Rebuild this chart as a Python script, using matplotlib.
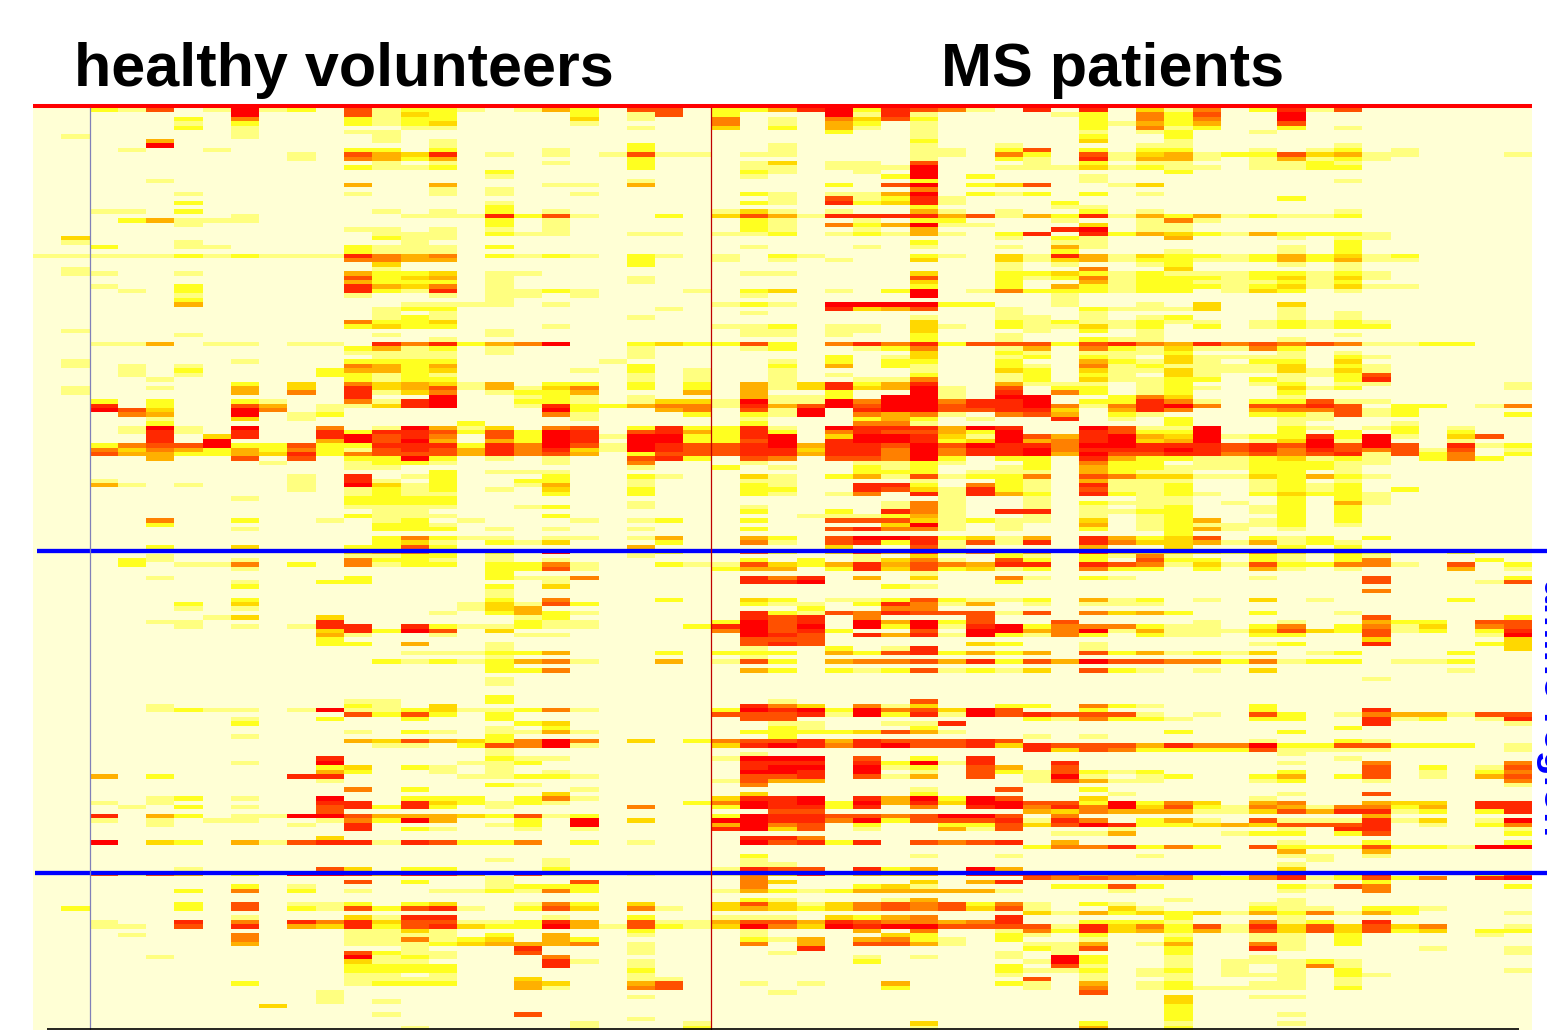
import matplotlib

matplotlib.use("Agg")
import matplotlib.pyplot as plt
import numpy as np
from matplotlib.colors import ListedColormap

# intensity level per row (0-8, "." = 0), short rows are padded with zeros
# columns 0-17
left_rows = [
    "..216.1812.61221.1", ".......8...6132", ".....2.5...2122", ".....1.2...2123", ".....2.1.....11",
    ".......1...11", ".1.....1....1", "....4.......1.1", "....8.........1", "...1..1....22.2",
    ".........1.6437.1", ".........1.5424", "............1.1", "...........2112", "................2",
    "................1", "....1", "...........4..4", "..............1.1", ".....1.....1..1.1",
    "", ".....2..........1", "................2", "..11.2......1.1.2", ".......1.....11172",
    "...24111........2", ".....1..........2", "...........11.1.1", "............111.21", ".3..........211",
    ".1...1.......1", "..2..11....2111.2", "...........2111", "111112121117545.21", "...........5544",
    "............3", ".1..........1", ".11..1.....4223.11", "...........6234.1", "...........4222.1",
    "..1..2.....7435.1", "...1.2.....7217.11", ".....1.....1..1.11", ".....2..........1", ".....4.......1111",
    "............122", "............1.1", "............121", "...........5223", "...........2322",
    ".1..............1", ".....1......1...1",
    "..............1",
    "..114.11.11.757245", "...........2412.1", "...........1111.1", "............111", ".1.....1...2222",
    ".1.1.1.....5424", "...1.2....24423", "...1.1....22121", "....1......2122", ".......2.3.534314",
    ".1..1..4.3.7346141", ".1.....4.5.7135.12", "...........7..8..1", "..2.2..21..5178..2", "..7.2..64.11378..1",
    "..863..85.1", "...54..8.12", "....1..3.1", "....2..........2", "...181.8..5.18413",
    "...171.7..72776262", "....7.37..78675.62", "....7.8...48684.42", "..2566822622777275", "..5354242521676475",
    "..6442243725666475", "....4..6.6.2282.1", "........1..1221", "...........11", "..............2.11",
    ".........1.7.12", "..1......1.71.2..2", "..41.1...1.8312..1", ".........1.1212.1", "...........1211",
    ".......1...2222", "...........2222", "...........1111..1", "............11", "...........2111",
    "....5..2..1.12.1", "....2.......221", ".......1....222.1", "", "............25211",
    "............231.21", "....2..3...2262", "...........3452.2", "....1......1122.1", "...21..1...5221.1",
    "...2.115.2.5122.22", ".......1........22", "................2",
    "....1......2....21", ".......1..22", ".......2........2", "................1", "................1",
    ".......2........2", ".....2.3.......131", ".....1.1.......134", "..............1.24", "......13..3......1",
    "....11....7......2", ".....1.1.177.72112", "..........37286.3", "..........41..1..1", "..........2",
    "..........22.4..1", "................1", ".............11122", "................1", "............212124",
    "................2", "................22", "", "................1", "................1",
    "", "", "................2", "...........11...2", "....1......21.3",
    "....1211.181123112", "...........6262.2", ".......1..2..2..2", ".......2.........2", "................1",
    "...........1.21.11", ".......1........2", "...........4364325", "............11.265", "................1",
    "................1", "..........7.....21", ".......1..8....112", "..........23.21.1", "..........42..1.1",
    "..4.2....77....112", "..........1", "................21", "...........5.2", "",
    "....12.1..8..222.2", "..1.1.....77.73212", "...1.2.1..67272.1", "..........6",
    "..7.42.11886444326", "..1.1.11..15284..2", "....1....1.7....12", "...........7.21..1", "",
    "..........3", "..8.32.41677176225", "", "", "",
    "................1", "", ".....1....63.22", "..6164.2.8874774.6", "................1",
    "...........6.2..1", ".......2.1......12", ".....2.5.2.1..1121", "", "",
    ".....2.6.112.23..1", ".2...2.6.2162671.2", "", ".......1...3177", "..1..7.5.757366112",
    "..11.6.7.437267322", "...........1131", "...1...5...1111.2", ".......5...115123", ".......4...1112344",
    ".............1...7", "...........6211..6", "....1......8121", "...........311", "...........2222",
    "...........2222", "...........11.1", "...........1111..3", ".......2...1222..4", ".................4",
    "..........1", "..........1", "..........1.1", "........3", "",
    "............1....6", "", "", ".............1",
]

# columns 18-34
middle_rows = [
    "42.66.2247827651", ".2.16.2...8171", ".3.1..5.1.5362", ".1....5.1.42.1", "...1..3.2.41.1",
    "..........2..1", ".............1", ".............2", "...2....1....1..1", "1..2....1....11.2",
    "1.1611.11....11.5", "...2.........1..2", "1..2...13.11.6", "...2...11.1118..1", ".......21..1.8",
    ".......1....28.2", "...1.........2", "11.4......2.68.23", ".............5", ".1.....21.1148.21",
    "........1.61271", ".......21.72371", ".............2", "1.....131.1..41.1", "61..2.36417777461",
    "1......21..1.22", "1......21.524811", "1......21..1.4", "1..11.112.12141.2", "................1",
    ".............2", ".......1...1.1..1", "", "21.21.1.21...21.3", "...2..1.1.1..3..3",
    "...2............1", "................1", ".......11....3..2", "...1.........6..2", "...1.........3..2",
    ".............2..2", "21...1.23.1.28.15", ".1.....1.....8", "", "1.....121.888822",
    "....1.....7346..1", ".......1........1", "...1.........1..1", ".............3..2", "1.....112.11.31.2",
    ".......11.11.3", ".......11.1..2..1",
    ".............2..1",
    "8..232262.5757266", "...1...12..125..1", "...1.........3..2", "...1......2.13..1", "..1.....1.2.22..2",
    "...2....2.4.21..2", ".1.2.1..1....1..3", "...1.1..1.1..2..1", "...1.1..1..115..1", "22.2.2.4137247..4",
    "35.2.2.41373481.6", "24...4.4..2..81.7", "21.1...4112.881.8", "21.13318118588577", "72245517468688677",
    "82..45.618.788667", "51...2.218.5451.5", ".1.....1...242.1", ".......2...551", "56.272271.8777487",
    "87.674272.5766428", "871882278.3887318", "87.882268.7887238", "86187667847768687", "73187667737758577",
    "64.26667747758577", "1..672.65.66582.2", "1..5...1...1121", "...1..2.1..212..1", "1..........222.11",
    "2..21..31.2416122", "2..1...11....1..2", "4..1...21..772.52", "3..2...22..763172", "2..2...21.15.7174",
    "..............1", "...1........151..2", "2..1...1....151..1", ".......2..2.751.7", "2........111241",
    ".1.12..2..6663121", "............381.1", "1..1...2..67551.1", "", "11.14..42.6887231",
    "3...2..51.6727161", "...4......3..61", "8..12..62.3747252", "...1.......1.3..2", "1......2.2.1351.6",
    "51..2116324746547", "61....244.2736231", ".............1",
    "15.....757.4.3..5", "1......778......2", "3...........21", "", "",
    "5...2..32.1126211", "62.....211.27514", ".........2..55", "21.....7216576661", "2......767.5...6",
    "11....2867.84826", "11...27868.828178", "......58672..6.88", "1......876.747182", ".......666",
    ".......676.....32", ".......1..2.17", "4...2.222.4267242", ".......1", "51..4.162.4556472",
    "", "5......42.2126121", "", "", "",
    "", "", "", "........1....6", ".......753.513..2",
    "51....28782856386", "......66671827186", ".......66", "3.......11..117", "2.......21...2",
    "41.....22223641", "........2", "85.3.256674766676", "81....37875786673", "",
    ".......1", "1.....1888.6.2.7", ".......777.72817", ".......788.812.64", "1......887.8.1.62",
    "21.....667.614.6", "......1644", ".......5", ".1...........1..6", "3......3.....2",
    "51....3778.748286", "1....258782847388", "...5..287727.5.78", "........66",
    "12....28776656886", ".8.3..88775826667", ".8....4856.2..226", ".1....7836.1..416", "",
    ".......775", ".2.1...86727.6567", "", "", ".......2.....1..1",
    "1......1", "1......11", "2.....1766.724.84", "1..1..15371434.77", ".......5",
    ".6.....53....3.47", "22.....5...231", "52....14212444441", "", ".......21...14",
    "52.3..36313565625", "63.51.34323565636", "", "1..2..111.3245..7", "74.61146647655457",
    "84162138538788666", "...2...1...4.5..1", "4..1...1....32..2", "42.....214.4521.2", "45.1...5.4.6641..1",
    "...1.....7", "...1....1.......1", "5..........1.1..1", "71.1.......2", "7..1............2",
    "...2............2", "...1............1", "...11", "3..46..1.1..4...2", "1..56.......2",
    "........1", "...1", "", "", "",
    "", "...1", ".1...1.......3", ".1...2.......1",
]

# columns 35-52
right_rows = [
    "7.7.315.2716", ".12.526..8", "..2.525..8", "..21424..6", "..2.512..2.1",
    "..1.12..1", "..2..2", "..3..1", "....11.....1", "6.2.22..1.12.1",
    "2.613412263411...1", "1.71441.14121", "1.2.11..1121", "1131211.1122", ".....2",
    "..1", "..1........1", "6..13", "", "2.2.1",
    ".........2", ".2", ".11", "..2.1......1", "427142412112",
    ".1..151", "..3.11", ".78.11", "7.72432142221", ".21..4...1.11",
    ".11........2", ".41......1.2", ".2...1...1.2", "17413221242312", "13412211242411",
    ".1..12...1.1", "..5..3.....1", "2321211122121", "1251222123131", "..4122111212",
    ".4212221231311", "222122.132.1", ".1", ".1", ".1..1.3..3",
    "..21113..1", "..1......1.1", "1.1.12...1.1", "1211211.12121", "11312.2.12122",
    "1.2.1", "....1......1",
    "..211....1",
    "6267547565651122", "4.52131152", "1.1112...1.1", "2.21.31111.21", "..42131.22.3",
    "1.51211113.21", "2.31131113131", "2.21.31..1126", "2.31122.21.27", "111.12..12.11....1",
    ".22.121..312.....1", ".52.12...2", "8..253...1", "8.22751.22611", "8515785.6676.22.15",
    "73.475..455612", "64.21...221612...2", ".7.1.2...11", ".....2...1...1", "..86118..21.12.1",
    "..76228..2.2.2.2", "64784381227281.36", "4578348.13818..1", "75887776768686.712", "8577787675765616.1",
    "8486677565671625.2", "2.74221123121.252", "2.522.1122211", "2.4221112221", "1.4211..22.1",
    "5.65331132421", "1.4111..12.1", "1.7112..1212", "1.6112..1212.2", "2.72121.23221",
    "1...11...2.21", "1.2111.1.2.41", "1.1.12..12.2", "7.1122..12.2", "1.1.12...2.2",
    "1.3.124.12.2", "..4.121112.1", "..2.1241.1", ".....2", "4.74236.212.2",
    "7.7533414121", "..4..3...2.2", "4.73333253132..2", "1.2151..21.21", "2.2.622.21.25...2",
    "7.765131622551.6.2", "2.522.2.41.1...4.1", "",
    "1.21....1...6....2", "............6...16", "", "............5", "",
    "2.412.1.3.1....2", "1.111", "", "6.5342..2..1", "............6....2",
    ".6....1..1..422.66", "2555211.25.2513.56", "458141113632612.27", "152.211.22..6...18", "............3....3",
    "..1.....12..7...23", "..1..............3", "4.6241213.12...2", "", "648665525122.112",
    "", "3.621.1.3......1", "", "............1", "",
    "", "", "", "", "2.521...2",
    "..2.....2...7", "76661.1.62.1544166", "215221..22..712.17", "............7....1", "...........2",
    ".....2...2", "1.1", "........1..21", "7666475582266222.1", "7365222261111....1",
    ".........1", "...........1", ".7.......1..5....5", ".6..........6.2.16", "16212....2..6.1.25",
    "181.12..24.26.1.46", "16411...12..1....5", ".................1", "..2", "...1.....1..6",
    "..3.....1", "6628253.45..433.77", "575836215415524.77", "435444113647712.27",
    ".5..........4",
    "175.241.6111713.18", "3687223436667.1.25", "...1.....1.77....1", ".114...122.26....2", "",
    ".4.......1..2....2", "2557252.6222622188", ".........4..4", "....1....11.1", "..........1",
    ".........1", ".........3", "7645451.57.27...26", "656555225712625.78", "............2",
    ".2262....2165....2", "...1.....1..5", "", ".....1...1", "1.21....11",
    "1..31...211.221", "31423231425142...1", ".....2...1", "..2221..512.7", "617352617363635..1",
    "527342416363623.22", "1.2..1..11.2....1", "..1..2..11.2", "114.14..51.2", "216..2..71....1..1",
    ".1...2...........1", ".82..1..1", "182..1.11121", ".61..1.1.151", "112.12.1.1.2.....1",
    "..1.11.111.21", "6.1..1...1.1", "1.4.12..11.1", "1.5.121111.2", "..6",
    ".....3..11", ".....3", ".....2", ".....2", ".....2...1",
    ".....2", "..2..1...1", "..4..2", "..6..2",
]

group_titles = ["healthy volunteers", "MS patients"]
side_label = "amino region"
level_colors = ["#ffffd5", "#ffff80", "#ffff20", "#ffd800", "#ffb000",
                "#ff8000", "#ff5000", "#ff2800", "#ff0000"]

W, H = 1547, 1030


def to_levels(rows, width):
    out = []
    for row in rows:
        row = row.ljust(width, ".")[:width]
        out.append([0 if ch == "." else int(ch) for ch in row])
    return np.array(out)


def fx(px):
    return px / W


def fy(py):
    return 1 - py / H


n = min(len(left_rows), len(middle_rows), len(right_rows))
matrix = np.hstack([to_levels(left_rows[:n], 18),
                    to_levels(middle_rows[:n], 17),
                    to_levels(right_rows[:n], 18)])

fig = plt.figure(figsize=(W / 100, H / 100), dpi=100, facecolor="white")
ax = fig.add_axes([fx(33), fy(1030), (1532 - 33) / W, (1030 - 108.3) / H])
ax.imshow(matrix, aspect="auto", cmap=ListedColormap(level_colors), vmin=-0.5, vmax=8.5,
          interpolation="nearest")
ax.axis("off")

title_font = dict(family="Liberation Sans", fontweight="bold", fontsize=44,
                  va="baseline", ha="left", color="black")
fig.text(fx(73.5), fy(86), group_titles[0], **title_font)
fig.text(fx(941.5), fy(86), group_titles[1], **title_font)

overlay = fig.add_axes([0, 0, 1, 1], facecolor="none")
overlay.set_xlim(0, W)
overlay.set_ylim(H, 0)
overlay.axis("off")
overlay.plot([33, 1532], [105.5, 105.5], color="#ff0000", lw=2.9, solid_capstyle="butt")
overlay.plot([37, W], [551.3, 551.3], color="#0000ff", lw=3.1, solid_capstyle="butt")
overlay.plot([35, W], [872.5, 872.5], color="#0000ff", lw=3.1, solid_capstyle="butt")
overlay.plot([89.5, 89.5], [108, 1030], color="#8080b8", lw=0.9)
overlay.plot([711, 711], [108, 1030], color="#c00000", lw=0.9)
overlay.plot([47, 1519], [1029.3, 1029.3], color="black", lw=1.2, solid_capstyle="butt")

fig.text(fx(1543.5), fy(579), side_label, family="Liberation Sans", fontweight="bold",
         fontsize=29.5, color="#0000ff", rotation=270, rotation_mode="anchor",
         ha="left", va="baseline")

fig.savefig("out.png", dpi=100)
